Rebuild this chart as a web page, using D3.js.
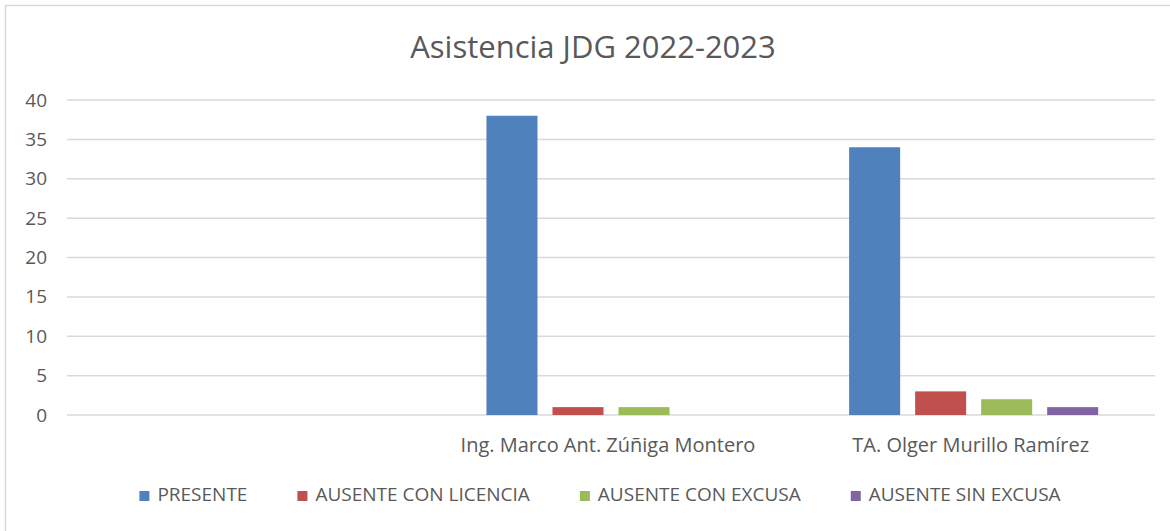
<!DOCTYPE html>
<html>
<head>
<meta charset="utf-8">
<script src="https://cdn.jsdelivr.net/npm/d3@7"></script>
<style>
  body { margin: 0; background: #fff; }
  text { font-family: "Open Sans", "Noto Sans", sans-serif; fill: #595959; }
</style>
</head>
<body>
<svg id="chart" width="1170" height="531"></svg>
<script>
// chart data
const categories = ["", "Ing. Marco Ant. Zúñiga Montero", "TA. Olger Murillo Ramírez"]
const seriesNames = ["PRESENTE", "AUSENTE CON LICENCIA", "AUSENTE CON EXCUSA", "AUSENTE SIN EXCUSA"]
const presente = [0, 38, 34]
const conLicencia = [0, 1, 3]
const conExcusa = [0, 1, 2]
const sinExcusa = [0, 0, 1]
const yTicks = [0, 5, 10, 15, 20, 25, 30, 35, 40]
const colors = ["#4F81BD", "#C0504D", "#9BBB59", "#8064A2"]

const seriesValues = [presente, conLicencia, conExcusa, sinExcusa]

const svg = d3.select("#chart")

// outer frame (runs off the right/bottom like the screenshot)
svg.append("rect")
  .attr("x", 5.5).attr("y", 5.5)
  .attr("width", 1180).attr("height", 540)
  .attr("fill", "none")
  .attr("stroke", "#d9d9d9")
  .attr("stroke-width", 1.5)

const plot = {left: 67, right: 1155, top: 100, bottom: 415}

const x0 = d3.scaleBand()
  .domain(categories)
  .range([plot.left, plot.right])

const bw = x0.bandwidth()
const pad = bw * 0.1566
const x1 = d3.scaleBand()
  .domain(seriesNames)
  .range([pad, bw - pad])
  .paddingInner(0.227)

const y = d3.scaleLinear()
  .domain([0, 40])
  .range([plot.bottom, plot.top])

// gridlines
svg.append("g")
  .selectAll("line")
  .data(yTicks)
  .join("line")
  .attr("x1", plot.left)
  .attr("x2", plot.right)
  .attr("y1", d => y(d))
  .attr("y2", d => y(d))
  .attr("stroke", "#d9d9d9")
  .attr("stroke-width", 1.5)

// y axis labels
const yAxis = svg.append("g")
  .attr("transform", `translate(${plot.left - 20},0)`)
  .call(d3.axisLeft(y).tickValues(yTicks).tickSize(0).tickPadding(0))
yAxis.select(".domain").remove()
yAxis.selectAll("text")
  .style("font-size", "19px")
  .style("font-family", "'Open Sans', sans-serif")
  .attr("fill", "#595959")

// bars
const rows = categories.map((c, i) => ({cat: c, vals: seriesNames.map((s, j) => ({s, j, v: seriesValues[j][i]}))}))

svg.append("g")
  .selectAll("g")
  .data(rows)
  .join("g")
  .attr("transform", d => `translate(${x0(d.cat)},0)`)
  .selectAll("rect")
  .data(d => d.vals.filter(v => v.v > 0))
  .join("rect")
  .attr("x", d => x1(d.s))
  .attr("width", x1.bandwidth())
  .attr("y", d => y(d.v))
  .attr("height", d => y(0) - y(d.v))
  .attr("fill", d => colors[d.j])

// category labels
svg.append("g")
  .selectAll("text")
  .data(categories)
  .join("text")
  .attr("x", d => x0(d) + bw / 2 - 3)
  .attr("y", 452)
  .attr("text-anchor", "middle")
  .style("font-size", "20px")
  .text(d => d)

// title
svg.append("text")
  .attr("x", 593)
  .attr("y", 58)
  .attr("text-anchor", "middle")
  .style("font-size", "31px")
  .text("Asistencia JDG 2022-2023")

// legend, laid out from measured text widths and centred
const legend = svg.append("g")
const items = legend.selectAll("g")
  .data(seriesNames)
  .join("g")
items.append("rect")
  .attr("width", 10).attr("height", 10)
  .attr("y", -10)
  .attr("fill", (d, i) => colors[i])
items.append("text")
  .attr("x", 18)
  .style("font-size", "19px")
  .text(d => d)

const gap = 50
let pos = 0
items.each(function() {
  const w = this.querySelector("text").getComputedTextLength()
  d3.select(this).attr("transform", `translate(${pos},0)`)
  pos += 18 + w + gap
})
const total = pos - gap
legend.attr("transform", `translate(${600 - total / 2},501)`)
</script>
</body>
</html>
